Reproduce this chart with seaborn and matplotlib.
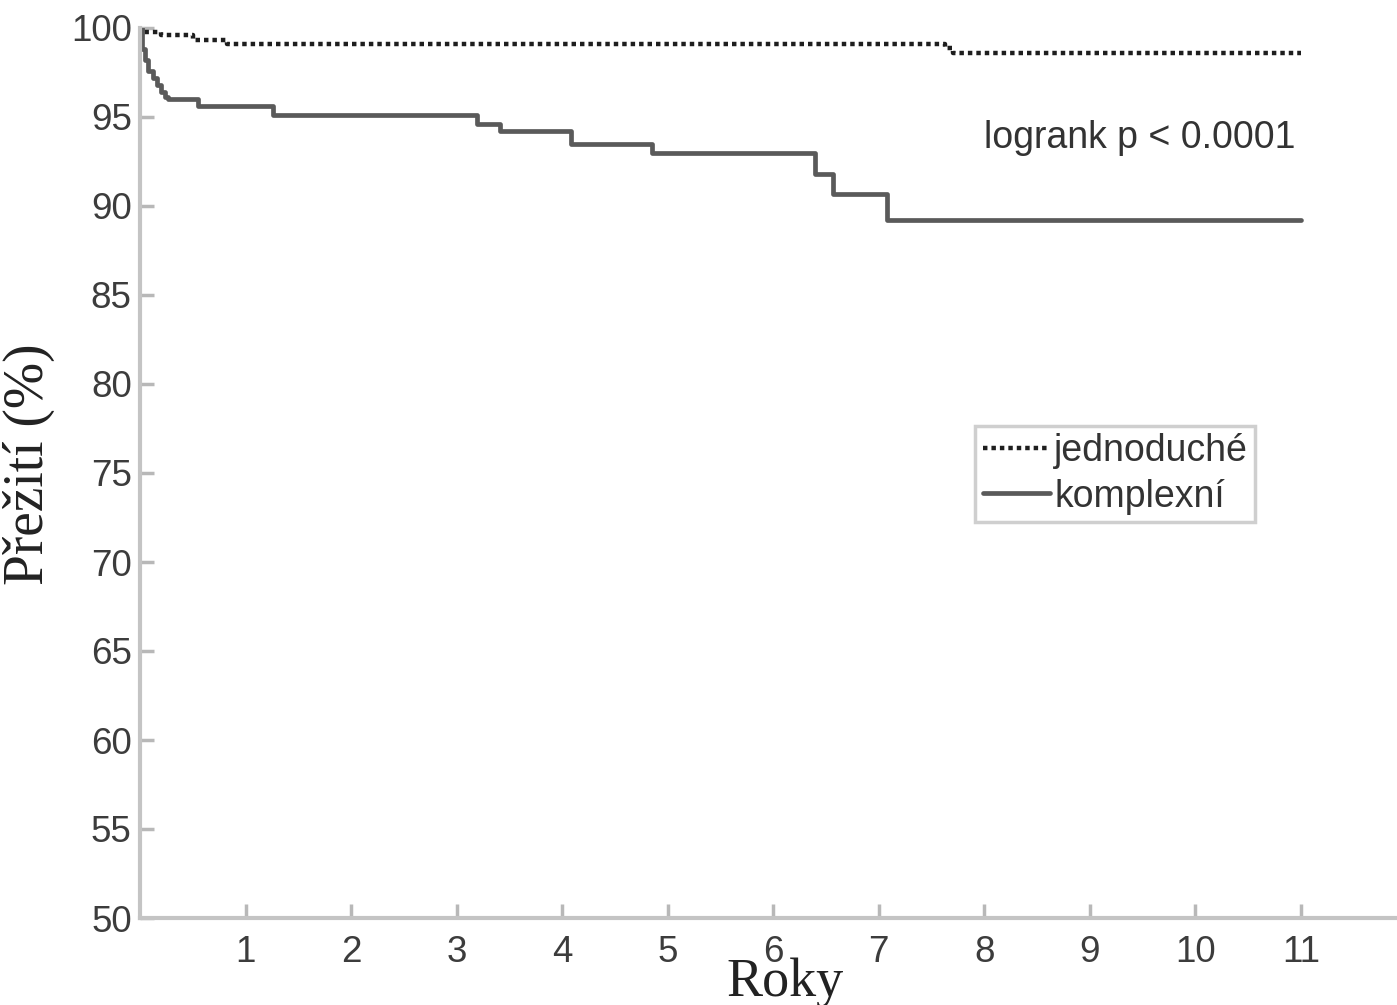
import numpy as np
import pandas as pd
import matplotlib
matplotlib.use('Agg')
import matplotlib.pyplot as plt
import seaborn as sns

# -------------------------
# Data
# -------------------------
years_simple = [0, 0.02, 0.2, 0.5, 0.82, 7.63, 7.7, 11.0]
surv_simple = [100, 99.8, 99.6, 99.3, 99.1, 98.9, 98.6, 98.6]

years_complex = [0, 0.02, 0.05, 0.08, 0.12, 0.16, 0.2, 0.24, 0.27, 0.55, 1.26,
                 3.19, 3.41, 4.08, 4.85, 6.40, 6.57, 7.08, 11.0]
surv_complex = [100, 98.8, 98.2, 97.6, 97.2, 96.8, 96.4, 96.1, 96.0, 95.6, 95.1,
                94.6, 94.2, 93.5, 93.0, 91.8, 90.7, 89.2, 89.2]

labels = ['jednoduché', 'komplexní']
x_ticks = list(range(1, 12))
y_ticks = list(range(50, 101, 5))
annotation = 'logrank p < 0.0001'

df = pd.concat([
    pd.DataFrame({'Roky': years_simple, 'Preziti': surv_simple, 'skupina': labels[0]}),
    pd.DataFrame({'Roky': years_complex, 'Preziti': surv_complex, 'skupina': labels[1]}),
])

# -------------------------
# Plot
# -------------------------
sns.set_theme(style='white')
plt.rcParams['font.family'] = ['Liberation Sans', 'DejaVu Sans']

fig = plt.figure(figsize=(13.97, 10.05), dpi=100)
ax = fig.add_axes([140 / 1397, 1 - 918 / 1005, 1 - 140 / 1397, (918 - 28) / 1005])

sns.lineplot(data=df[df['skupina'] == labels[0]], x='Roky', y='Preziti',
             drawstyle='steps-post', color='#1e1e1e', linewidth=3.2,
             linestyle=(0, (1, 0.9)), label=labels[0], ax=ax)
sns.lineplot(data=df[df['skupina'] == labels[1]], x='Roky', y='Preziti',
             drawstyle='steps-post', color='#5a5a5a', linewidth=3.4,
             label=labels[1], ax=ax)

ax.set_xlim(0, 11.91)
ax.set_ylim(50, 100)
ax.set_xticks(x_ticks)
ax.set_yticks(y_ticks)

for s in ['top', 'right']:
    ax.spines[s].set_visible(False)
for s in ['left', 'bottom']:
    ax.spines[s].set_color('#c4c4c4')
    ax.spines[s].set_linewidth(3)

ax.tick_params(axis='both', which='major', direction='in', length=10, width=2.5,
               color='#b8b8b8', labelsize=26.5, labelcolor='#3c3c3c',
               bottom=True, left=True)
ax.tick_params(axis='x', pad=12)
ax.tick_params(axis='y', pad=6)

ax.set_xlabel('Roky', family=['Liberation Serif', 'DejaVu Serif'], fontsize=39,
              color='#222222')
ax.xaxis.set_label_coords(0.5 + 17 / 1257, -0.044)
ax.xaxis.label.set_va('top')
ax.set_ylabel('Přežití (%)', family=['Liberation Serif', 'DejaVu Serif'], fontsize=40,
              color='#222222')
ax.yaxis.set_label_coords(-85 / 1257, 0.51)

ax.text(10.95, 93.8, annotation, ha='right', va='center', fontsize=27, color='#333333')

leg = ax.legend(loc='center', bbox_to_anchor=(0.776, 0.499), fontsize=27,
                frameon=True, fancybox=False, edgecolor='#c4c4c4',
                handlelength=1.8, handletextpad=0.1, borderpad=0.2,
                labelspacing=0.25, borderaxespad=0)
leg.get_frame().set_linewidth(2.5)
for t in leg.get_texts():
    t.set_color('#333333')

fig.savefig('out.png', dpi=100)
